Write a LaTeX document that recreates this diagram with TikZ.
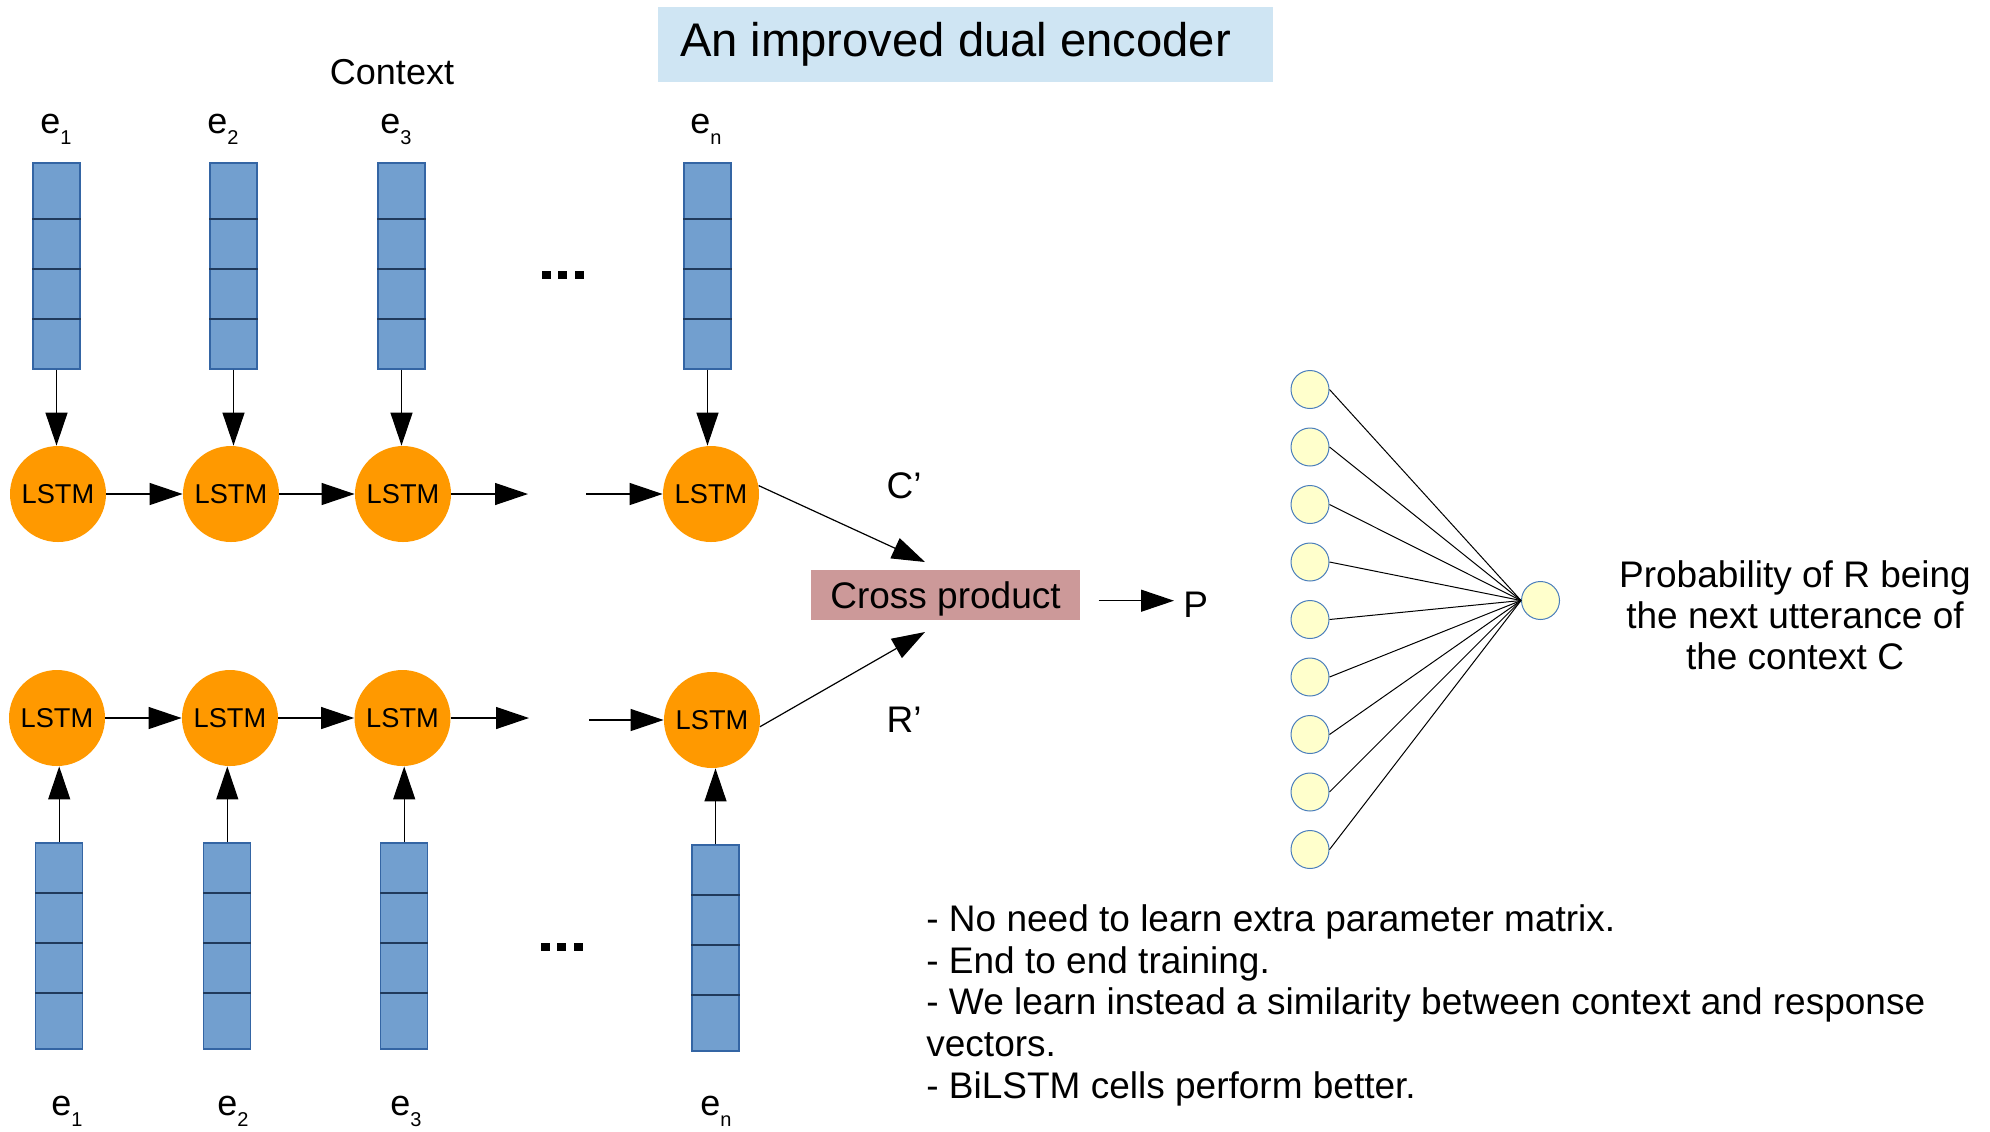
\documentclass[tikz,border=0pt]{standalone}
\usepackage{fontspec}
\setmainfont{Liberation Sans}
\usetikzlibrary{arrows.meta,calc}
\definecolor{barfill}{HTML}{729FCF}
\definecolor{barline}{HTML}{3465A4}
\definecolor{divline}{HTML}{203A5C}
\definecolor{lstmorange}{HTML}{FF9900}
\definecolor{titlebg}{HTML}{CFE5F3}
\definecolor{crossbg}{HTML}{CC9999}
\definecolor{neuronfill}{HTML}{FFFFCC}
\definecolor{neuronline}{HTML}{4A7EBB}
\newcommand{\esub}[1]{e\raisebox{-5.5pt}{\fontsize{10pt}{12pt}\selectfont #1}}
\newcommand{\barcells}[4]{%
  \foreach \f in {#2,#3,#4}{%
    \draw[divider] ($(#1.north west)!\f!(#1.south west)$) -- ($(#1.north east)!\f!(#1.south east)$);}}
\begin{document}
\begin{tikzpicture}[x=0.5pt,y=-0.5pt,
  embbar/.style={draw=barline, fill=barfill, line width=0.6pt, minimum width=23.5pt, minimum height=103pt, inner sep=0pt},
  divider/.style={draw=divline, line width=0.9pt},
  lstmnode/.style={circle, fill=lstmorange, minimum size=48pt, inner sep=0pt, font=\fontsize{13.6pt}{15pt}\selectfont},
  arr/.style={-{Triangle[length=16.5pt,width=11pt]}, line width=0.6pt},
  lbl/.style={font=\fontsize{18pt}{22pt}\selectfont, inner sep=0pt},
  txt/.style={font=\fontsize{18.5pt}{20.8pt}\selectfont, inner sep=0pt},
  neur/.style={circle, draw=neuronline, fill=neuronfill, minimum size=19pt, inner sep=0pt, line width=0.5pt},
  wire/.style={line width=0.5pt},
  dotsq/.style={fill=black}]
\useasboundingbox (0,0) rectangle (1990,1131);

% title
\node[fill=titlebg, minimum width=307.5pt, minimum height=37.5pt, inner sep=0pt,
      font=\fontsize{23.6pt}{28pt}\selectfont] (title) at (965.5,44.5) {\hspace*{-10pt}An improved dual encoder};
\node[lbl, anchor=base] (context) at (392,84) {Context};

% top labels
\node[lbl, anchor=base west] (et1) at (40,133) {\esub{1}};
\node[lbl, anchor=base west] (et2) at (207,133) {\esub{2}};
\node[lbl, anchor=base west] (et3) at (380,133) {\esub{3}};
\node[lbl, anchor=base west] (etn) at (690,133) {\esub{n}};

% top bars
\node[embbar] (bt1) at (56.5,266) {};
\node[embbar] (bt2) at (233.5,266) {};
\node[embbar] (bt3) at (401.5,266) {};
\node[embbar] (btn) at (707.5,266) {};
\foreach \b in {bt1,bt2,bt3,btn}{\barcells{\b}{0.272}{0.515}{0.757}}

% top LSTMs
\node[lstmnode] (lt1) at (58,494) {LSTM};
\node[lstmnode] (lt2) at (231,494) {LSTM};
\node[lstmnode] (lt3) at (403,494) {LSTM};
\node[lstmnode] (ltn) at (711,494) {LSTM};
\coordinate (gta) at (528,494);
\coordinate (gtb) at (586,494);

\foreach \i in {1,2,3,n}{\draw[arr] (bt\i.south) -- (bt\i.south |- lt\i.north);}
\draw[arr] (lt1) -- (lt2);
\draw[arr] (lt2) -- (lt3);
\draw[arr] (lt3) -- (gta);
\draw[arr] (gtb) -- (ltn);

% top dots
\fill[dotsq] (542,271) rectangle ++(9,8);
\fill[dotsq] (558,271) rectangle ++(9,8);
\fill[dotsq] (575,271) rectangle ++(9,8);

% bottom LSTMs
\node[lstmnode] (lb1) at (57,718) {LSTM};
\node[lstmnode] (lb2) at (230,718) {LSTM};
\node[lstmnode] (lb3) at (402.5,718) {LSTM};
\node[lstmnode] (lbn) at (712,720) {LSTM};
\coordinate (gba) at (529,718);
\coordinate (gbb) at (589,720);
\draw[arr] (lb1) -- (lb2);
\draw[arr] (lb2) -- (lb3);
\draw[arr] (lb3) -- (gba);
\draw[arr] (gbb) -- (lbn);

% bottom bars
\node[embbar] (bb1) at (59.2,946) {};
\node[embbar] (bb2) at (227.3,946) {};
\node[embbar] (bb3) at (404.2,946) {};
\node[embbar] (bbn) at (715.5,948) {};
\foreach \b in {bb1,bb2,bb3,bbn}{\barcells{\b}{0.243}{0.485}{0.728}}
\foreach \i in {1,2,3,n}{\draw[arr] (bb\i.north) -- (bb\i.north |- lb\i.south);}

% bottom dots
\fill[dotsq] (541,943) rectangle ++(9,8);
\fill[dotsq] (557,943) rectangle ++(9,8);
\fill[dotsq] (574,943) rectangle ++(9,8);

% bottom labels
\node[lbl, anchor=base west] (eb1) at (51,1115) {\esub{1}};
\node[lbl, anchor=base west] (eb2) at (217,1115) {\esub{2}};
\node[lbl, anchor=base west] (eb3) at (390,1115) {\esub{3}};
\node[lbl, anchor=base west] (ebn) at (700,1115) {\esub{n}};

% cross product
\node[fill=crossbg, minimum width=134.5pt, minimum height=25pt, inner sep=0pt,
      text height=17pt, text depth=4pt,
      font=\fontsize{18.5pt}{22pt}\selectfont] (cross) at (945.5,595) {Cross product};
\coordinate (ca) at (925,562);
\coordinate (ra) at (925,632);
\draw[arr] (ltn.10) -- (ca);
\draw[arr] (lbn.-8) -- (ra);
\node[txt, anchor=base] (cl) at (904,498) {C’};
\node[txt, anchor=base] (rl) at (904,732) {R’};
\coordinate (pa) at (1098.5,600.7);
\node[txt, anchor=base west] (p) at (1183,617) {P};
\draw[arr, shorten >=4.5pt] (pa) -- (pa -| p.west);

% network
\node[neur] (out) at (1540.5,600.5) {};
\foreach \i in {0,...,8}{
  \node[neur] (in\i) at (1310,{389.5+57.5*\i}) {};
  \draw[wire] (in\i.east) -- (out.west);
}

\node[font=\fontsize{18.5pt}{20.35pt}\selectfont, inner sep=0pt, anchor=base, align=center] (prob) at (1795,669)
  {Probability of R being\\the next utterance of\\the context C};

\node[txt, anchor=base west, align=left] (notes) at (926,1098)
  {- No need to learn extra parameter matrix.\\
   - End to end training.\\
   - We learn instead a similarity between context and response\\
   vectors.\\
   - BiLSTM cells perform better.};
\end{tikzpicture}
\end{document}
